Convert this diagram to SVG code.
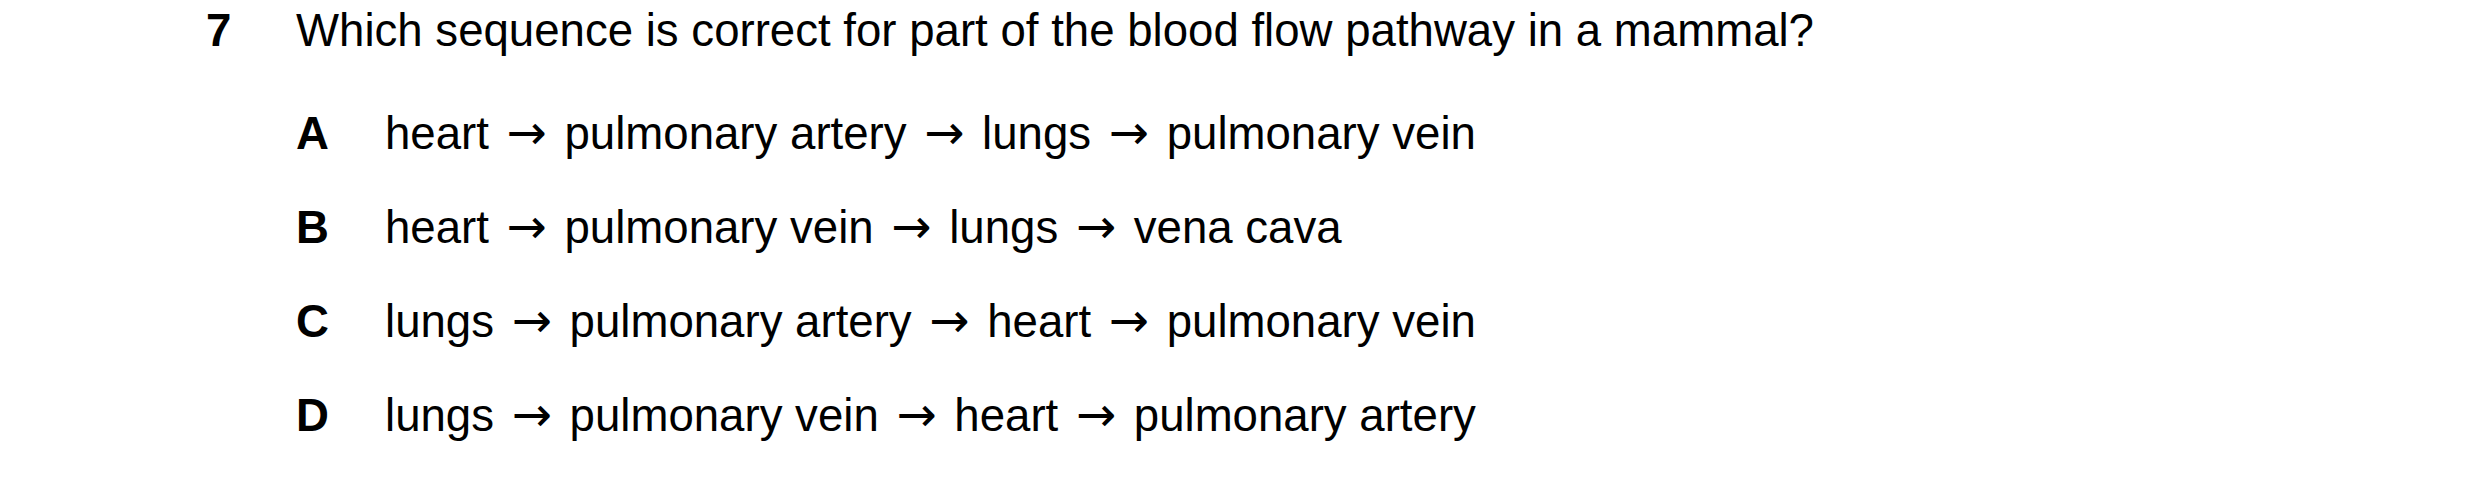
<svg xmlns="http://www.w3.org/2000/svg" width="2480" height="478" viewBox="0 0 2480 478">
<style>
text{font-family:"Liberation Sans",Arial,sans-serif;font-size:45.6px;fill:#000}
.b{font-weight:bold}
.a{font-family:"DejaVu Sans",sans-serif;font-size:48px}
</style>
<rect width="2480" height="478" fill="#fff"/>
<g id="question">
<text class="b" x="206" y="46">7</text>
<text x="296" y="46">Which sequence is correct for part of the blood flow pathway in a mammal?</text>
</g>
<g id="optA"><text class="b" x="296" y="149">A</text><text x="385" y="149">heart <tspan class="a" dx="5">→</tspan><tspan dx="5"> pulmonary artery </tspan><tspan class="a" dx="5">→</tspan><tspan dx="5"> lungs </tspan><tspan class="a" dx="5">→</tspan><tspan dx="5"> pulmonary vein</tspan></text></g>
<g id="optB"><text class="b" x="296" y="243">B</text><text x="385" y="243">heart <tspan class="a" dx="5">→</tspan><tspan dx="5"> pulmonary vein </tspan><tspan class="a" dx="5">→</tspan><tspan dx="5"> lungs </tspan><tspan class="a" dx="5">→</tspan><tspan dx="5"> vena cava</tspan></text></g>
<g id="optC"><text class="b" x="296" y="337">C</text><text x="385" y="337">lungs <tspan class="a" dx="5">→</tspan><tspan dx="5"> pulmonary artery </tspan><tspan class="a" dx="5">→</tspan><tspan dx="5"> heart </tspan><tspan class="a" dx="5">→</tspan><tspan dx="5"> pulmonary vein</tspan></text></g>
<g id="optD"><text class="b" x="296" y="431">D</text><text x="385" y="431">lungs <tspan class="a" dx="5">→</tspan><tspan dx="5"> pulmonary vein </tspan><tspan class="a" dx="5">→</tspan><tspan dx="5"> heart </tspan><tspan class="a" dx="5">→</tspan><tspan dx="5"> pulmonary artery</tspan></text></g>
</svg>
